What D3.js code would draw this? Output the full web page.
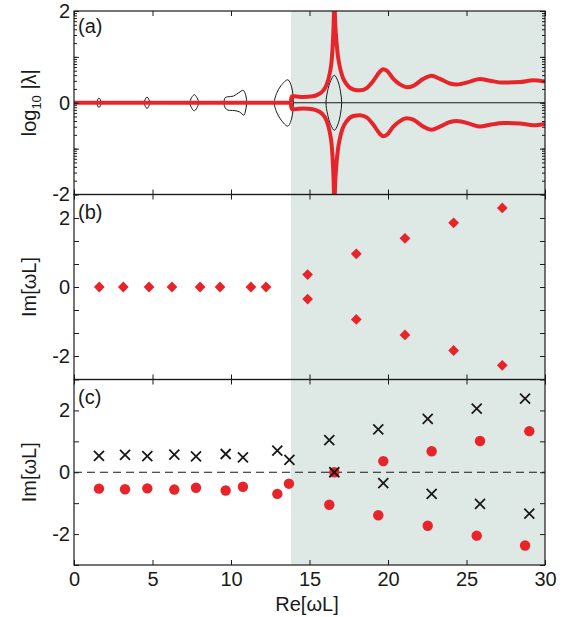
<!DOCTYPE html>
<html>
<head>
<meta charset="utf-8">
<script src="https://cdn.jsdelivr.net/npm/d3@7"></script>
<style>
body { margin: 0; background: #fff; }
text { font-family: "Liberation Sans", Arial, sans-serif; fill: #1a1a1a; }
</style>
</head>
<body>
<svg id="chart" width="567" height="617"></svg>
<script>
// shared x axis
var xTicks = [0, 5, 10, 15, 20, 25, 30];
var shadeFrom = 13.82;

// panel (a): log10|lambda| branches
var flatBranch = [[0, 0], [13.82, 0]];
var upperBranch = [[13.82,0],[13.84,0.1],[13.9,0.14],[14.05,0.14],[14.6,0.125],[15.2,0.14],[15.6,0.19],
  [15.88,0.27],[16.1,0.4],[16.3,0.66],[16.42,0.95],[16.5,1.4],[16.55,1.9],[16.58,2.6],[16.62,1.9],
  [16.69,1.45],[16.8,1.05],[16.94,0.77],[17.1,0.57],[17.37,0.4],[17.79,0.29],[18.22,0.27],[18.64,0.32],
  [19.07,0.48],[19.49,0.68],[19.7,0.73],[19.92,0.7],[20.34,0.52],[20.76,0.4],[21.19,0.34],[21.61,0.37],
  [22.25,0.52],[22.78,0.59],[23.31,0.52],[23.95,0.42],[24.38,0.4],[25.22,0.46],[25.86,0.52],[26.5,0.48],
  [27.34,0.44],[28.4,0.45],[29.25,0.49],[30,0.46]];
var lowerBranch = [[13.82,0],[13.84,-0.1],[13.9,-0.14],[14.05,-0.14],[14.6,-0.125],[15.2,-0.14],[15.6,-0.19],
  [15.88,-0.27],[16.1,-0.4],[16.3,-0.66],[16.42,-0.95],[16.5,-1.4],[16.55,-1.9],[16.58,-2.6],[16.62,-1.9],
  [16.69,-1.45],[16.8,-1.05],[16.94,-0.77],[17.1,-0.57],[17.37,-0.4],[17.79,-0.29],[18.22,-0.27],[18.64,-0.32],
  [19.07,-0.48],[19.49,-0.68],[19.7,-0.73],[19.92,-0.7],[20.34,-0.52],[20.76,-0.4],[21.19,-0.34],[21.61,-0.37],
  [22.25,-0.52],[22.78,-0.59],[23.31,-0.52],[23.95,-0.42],[24.38,-0.4],[25.22,-0.46],[25.86,-0.52],[26.5,-0.48],
  [27.34,-0.44],[28.4,-0.45],[29.25,-0.49],[30,-0.46]];
var baseLine = [[13.97, 0], [30, 0]];
// closed contours (black)
var loops = [
  [[1.45,0],[1.59,0.105],[1.73,0],[1.59,-0.105]],
  [[4.47,0],[4.65,0.125],[4.83,0],[4.65,-0.125]],
  [[6.46,0],[6.5,0.03],[6.54,0],[6.5,-0.03]],
  [[7.38,0],[7.66,0.175],[7.94,0],[7.66,-0.175]],
  [[9.55,0],[9.63,0.11],[9.8,0.13],[10.15,0.145],[10.5,0.22],[10.78,0.27],[10.95,0.15],[11.0,0],
   [10.92,-0.18],[10.82,-0.27],[10.55,-0.2],[10.2,-0.17],[9.8,-0.16],[9.63,-0.11]],
  [[12.76,0],[12.9,0.2],[13.2,0.38],[13.62,0.5],[13.85,0.36],[13.95,0.16],[13.97,0],
   [13.95,-0.16],[13.85,-0.36],[13.62,-0.51],[13.2,-0.38],[12.9,-0.2]],
  [[16.05,0],[16.15,0.25],[16.35,0.48],[16.58,0.6],[16.8,0.48],[16.97,0.25],[17.05,0],
   [16.97,-0.25],[16.8,-0.48],[16.58,-0.6],[16.35,-0.48],[16.15,-0.25]]
];

// panel (b): Im[wL] diamonds
var bX = [1.61,3.14,4.78,6.24,8.03,9.3,11.27,12.23,14.88,14.88,17.98,17.98,21.08,21.08,24.18,24.18,27.28,27.28];
var bY = [0,0,0,0,0,0,0,0,0.36,-0.35,0.96,-0.94,1.41,-1.39,1.86,-1.84,2.29,-2.27];
var bTicks = [-2, -4/3, -2/3, 0, 2/3, 4/3, 2];

// panel (c): crosses and circles
var crossX = [1.59,3.25,4.67,6.39,7.77,9.66,10.76,12.95,13.72,16.26,16.58,19.38,19.7,22.53,22.78,25.65,25.86,28.73,29.0];
var crossY = [0.53,0.56,0.52,0.57,0.51,0.59,0.48,0.7,0.4,1.04,0,1.39,-0.35,1.73,-0.7,2.06,-1.02,2.38,-1.34];
var dotX = [1.59,3.25,4.67,6.39,7.77,9.66,10.76,12.95,13.69,16.26,16.58,19.7,19.38,22.78,22.53,25.86,25.65,29.0,28.73];
var dotY = [-0.53,-0.55,-0.52,-0.56,-0.5,-0.59,-0.47,-0.7,-0.37,-1.05,0,0.36,-1.39,0.68,-1.73,1.01,-2.05,1.33,-2.37];
var cTicks = [-3, -2, -1, 0, 1, 2, 3];

var red = "#e8242b", shade = "#dee9e6", ink = "#1a1a1a";
var left = 74, right = 545;
var panels = [
  {name: "(a)", top: 11, bottom: 194.5, labelY: 33},
  {name: "(b)", top: 194.5, bottom: 379.5, labelY: 219},
  {name: "(c)", top: 379.5, bottom: 565, labelY: 404}
];

var svg = d3.select("#chart");
var x = d3.scaleLinear().domain([0, 30]).range([left, right]);

var yA = d3.scaleLog().domain([0.01, 100]).range([panels[0].bottom, panels[0].top]);
var yB = d3.scaleLinear().domain([-2.68, 2.68]).range([panels[1].bottom, panels[1].top]);
var yC = d3.scaleLinear().domain([-3, 3]).range([panels[2].bottom, panels[2].top]);
var scales = [yA, yB, yC];

var defs = svg.append("defs");
panels.forEach(function(p, i) {
  defs.append("clipPath").attr("id", "clip" + i)
    .append("rect").attr("x", left).attr("y", p.top)
    .attr("width", right - left).attr("height", p.bottom - p.top);
});

// shading
panels.forEach(function(p) {
  svg.append("rect")
    .attr("x", x(shadeFrom)).attr("y", p.top)
    .attr("width", x(30) - x(shadeFrom)).attr("height", p.bottom - p.top)
    .attr("fill", shade);
});

// ---- panel (a)
var ga = svg.append("g").attr("clip-path", "url(#clip0)");
var lineA = d3.line()
  .x(function(d) { return x(d[0]); })
  .y(function(d) { return yA(Math.pow(10, d[1])); });
var loopLine = d3.line()
  .x(function(d) { return x(d[0]); })
  .y(function(d) { return yA(Math.pow(10, d[1])); })
  .curve(d3.curveCatmullRomClosed.alpha(0.5));

ga.selectAll(".loop").data(loops).enter().append("path")
  .attr("d", loopLine)
  .attr("fill", "none").attr("stroke", ink).attr("stroke-width", 1);
ga.append("path").datum(baseLine).attr("d", lineA)
  .attr("fill", "none").attr("stroke", ink).attr("stroke-width", 1);

var branchLine = lineA.curve(d3.curveMonotoneX);
[flatBranch, upperBranch, lowerBranch].forEach(function(b) {
  ga.append("path").datum(b).attr("d", branchLine)
    .attr("fill", "none").attr("stroke", red).attr("stroke-width", 4)
    .attr("stroke-linejoin", "round");
});

// ---- panel (b)
var gb = svg.append("g").attr("clip-path", "url(#clip1)");
gb.selectAll(".dia").data(bX).enter().append("path")
  .attr("d", d3.symbol().type(d3.symbolSquare).size(58))
  .attr("transform", function(d, i) {
    return "translate(" + x(d) + "," + yB(bY[i]) + ") rotate(45)";
  })
  .attr("fill", red);

// ---- panel (c)
var gc = svg.append("g").attr("clip-path", "url(#clip2)");
gc.append("line")
  .attr("x1", x(0)).attr("x2", x(30)).attr("y1", yC(0)).attr("y2", yC(0))
  .attr("stroke", ink).attr("stroke-width", 1).attr("stroke-dasharray", "8,5");
gc.selectAll(".dot").data(dotX).enter().append("circle")
  .attr("cx", function(d) { return x(d); })
  .attr("cy", function(d, i) { return yC(dotY[i]); })
  .attr("r", 5.2).attr("fill", red);
gc.selectAll(".cross").data(crossX).enter().append("path")
  .attr("d", "M-5,-5L5,5M-5,5L5,-5")
  .attr("transform", function(d, i) { return "translate(" + x(d) + "," + yC(crossY[i]) + ")"; })
  .attr("stroke", ink).attr("stroke-width", 1.8).attr("fill", "none");

// ---- frames and ticks
function styleAxis(g) {
  g.select(".domain").remove();
  g.selectAll("line").attr("stroke", ink).attr("stroke-width", 1);
  g.selectAll("text").style("font-size", "20px").attr("fill", ink);
}

panels.forEach(function(p, i) {
  var y = scales[i];
  svg.append("g").attr("transform", "translate(0," + p.top + ")")
    .call(d3.axisTop(x).tickValues(xTicks).tickSize(-5).tickFormat(""))
    .call(styleAxis);
  var bottomAxis = d3.axisBottom(x).tickValues(xTicks).tickSize(-5).tickPadding(7);
  if (i < 2) bottomAxis.tickFormat("");
  svg.append("g").attr("transform", "translate(0," + p.bottom + ")")
    .call(bottomAxis).call(styleAxis);

  if (i === 0) {
    var minor = y.ticks();
    var major = [0.01, 0.1, 1, 10, 100];
    svg.append("g").attr("transform", "translate(" + left + ",0)")
      .call(d3.axisLeft(y).tickValues(minor).tickSize(-3).tickFormat(""))
      .call(styleAxis);
    svg.append("g").attr("transform", "translate(" + right + ",0)")
      .call(d3.axisRight(y).tickValues(minor).tickSize(-3).tickFormat(""))
      .call(styleAxis);
    svg.append("g").attr("transform", "translate(" + left + ",0)")
      .call(d3.axisLeft(y).tickValues(major).tickSize(-5).tickPadding(4)
        .tickFormat(function(d) {
          var e = Math.round(Math.log10(d));
          return (e % 2 === 0) ? (e < 0 ? "-" + (-e) : "" + e) : "";
        }))
      .call(styleAxis);
    svg.append("g").attr("transform", "translate(" + right + ",0)")
      .call(d3.axisRight(y).tickValues(major).tickSize(-5).tickFormat(""))
      .call(styleAxis);
  } else {
    var tv = i === 1 ? bTicks : cTicks;
    svg.append("g").attr("transform", "translate(" + left + ",0)")
      .call(d3.axisLeft(y).tickValues(tv).tickSize(-5).tickPadding(4)
        .tickFormat(function(d) {
          if (Math.abs(d) === 2) return d < 0 ? "-2" : "2";
          if (d === 0) return "0";
          return "";
        }))
      .call(styleAxis);
    svg.append("g").attr("transform", "translate(" + right + ",0)")
      .call(d3.axisRight(y).tickValues(tv).tickSize(-5).tickFormat(""))
      .call(styleAxis);
  }

  svg.append("rect")
    .attr("x", left).attr("y", p.top)
    .attr("width", right - left).attr("height", p.bottom - p.top)
    .attr("fill", "none").attr("stroke", ink).attr("stroke-width", 1.2);

  svg.append("text")
    .attr("x", 78).attr("y", p.labelY)
    .style("font-size", "20px")
    .text(p.name);
});

// axis titles
var ta = svg.append("text")
  .attr("transform", "translate(36," + ((panels[0].top + panels[0].bottom) / 2) + ") rotate(-90)")
  .attr("text-anchor", "middle")
  .style("font-size", "20px");
ta.append("tspan").text("log");
ta.append("tspan").attr("dy", 5).style("font-size", "13px").text("10");
ta.append("tspan").attr("dy", -5).text(" |\u03bb|");

[1, 2].forEach(function(i) {
  var p = panels[i];
  svg.append("text")
    .attr("transform", "translate(36," + ((p.top + p.bottom) / 2) + ") rotate(-90)")
    .attr("text-anchor", "middle")
    .style("font-size", "20px")
    .text("Im[\u03c9L]");
});

svg.append("text")
  .attr("x", 307).attr("y", 611)
  .attr("text-anchor", "middle")
  .style("font-size", "20px")
  .text("Re[\u03c9L]");
</script>
</body>
</html>
